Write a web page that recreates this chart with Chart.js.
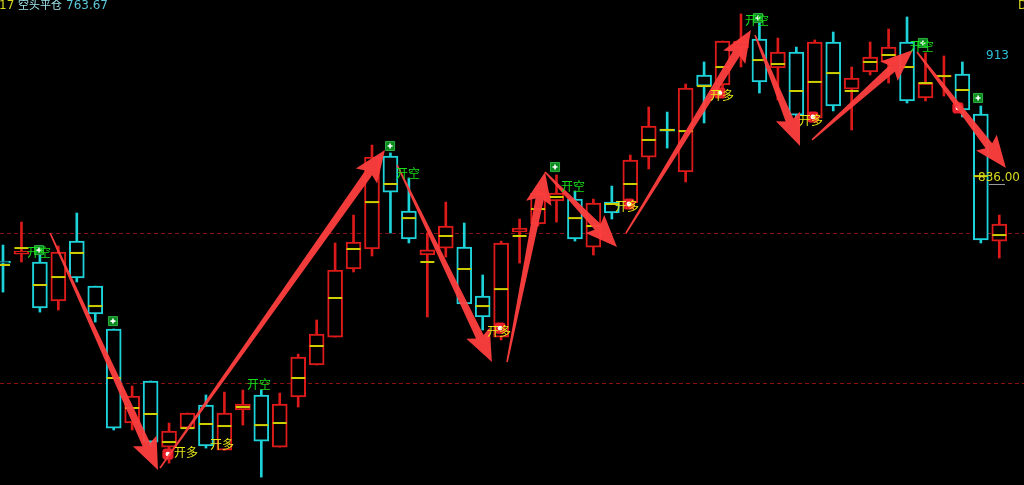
<!DOCTYPE html>
<html>
<head>
<meta charset="utf-8">
<script src="https://cdn.jsdelivr.net/npm/chart.js@4.4.0/dist/chart.umd.min.js"></script>
<style>
  html, body { margin: 0; padding: 0; background: #000; overflow: hidden; }
  canvas { display: block; }
</style>
</head>
<body>
<canvas id="kline" width="1024" height="485"></canvas>
<script>
// candle values (price units)
const opens = [783.3, 787.7, 782.7, 758.1, 795.9, 767.5, 740.4, 681.1, 707.6, 665.9,
  677.9, 692.4, 664.0, 689.3, 698.8, 665.9, 697.5, 717.7, 735.3, 778.3,
  790.9, 849.6, 814.9, 787.1, 791.5, 792.1, 761.2, 735.3, 801.6, 806.7,
  821.2, 822.4, 792.1, 820.5, 819.9, 848.9, 866.6, 839.5, 900.7, 894.4,
  917.7, 923.4, 905.1, 915.2, 873.5, 921.5, 891.8, 902.6, 908.9, 921.5,
  886.2, 899.4, 901.3, 876.1, 795.9];
const closes = [782.0, 789.6, 753.7, 789.0, 772.6, 749.9, 677.9, 698.1, 669.1, 676.0,
  687.4, 666.6, 687.4, 693.1, 669.7, 693.1, 722.7, 737.2, 777.6, 795.3,
  848.9, 826.8, 797.2, 790.3, 805.4, 756.2, 748.0, 794.7, 804.1, 826.2,
  826.2, 797.2, 819.9, 813.6, 847.0, 868.5, 865.3, 892.5, 893.7, 922.1,
  922.1, 896.3, 915.2, 875.4, 921.5, 881.1, 898.8, 912.0, 918.3, 884.3,
  895.6, 900.7, 878.6, 796.6, 806.7];
const highs = [793.4, 807.9, 789.0, 792.8, 813.6, 767.5, 740.4, 704.4, 707.6, 681.1,
  687.4, 698.8, 700.6, 701.9, 701.9, 700.0, 724.6, 746.1, 794.7, 812.3,
  856.5, 851.5, 835.7, 801.0, 820.5, 807.3, 774.5, 795.9, 809.8, 828.1,
  837.6, 827.5, 822.4, 830.6, 850.2, 880.5, 877.3, 895.0, 908.9, 922.1,
  939.2, 934.1, 924.0, 918.3, 922.8, 927.8, 905.7, 921.5, 929.7, 937.3,
  914.6, 912.7, 908.9, 881.1, 812.3];
const lows = [763.7, 782.7, 751.1, 752.4, 770.1, 744.8, 676.7, 676.7, 666.6, 655.8,
  677.9, 665.3, 664.0, 679.8, 647.0, 665.9, 691.2, 717.7, 735.3, 776.4,
  786.5, 801.0, 794.7, 748.0, 785.8, 756.2, 739.8, 733.5, 782.0, 805.4,
  807.9, 795.9, 787.1, 809.8, 818.6, 841.4, 854.6, 833.2, 870.4, 892.5,
  905.7, 889.3, 884.9, 873.5, 872.3, 878.0, 866.0, 900.7, 895.6, 883.0,
  884.3, 887.4, 874.2, 794.7, 785.2];
const mids = [780.8, 791.5, 768.2, 773.2, 788.4, 754.9, 709.5, 690.6, 686.8, 669.1,
  677.9, 680.5, 679.2, 691.2, 679.8, 681.1, 709.5, 729.7, 760.0, 790.9,
  820.5, 831.9, 810.4, 782.7, 799.1, 778.3, 754.9, 765.6, 799.1, 816.1,
  823.7, 810.4, 805.4, 819.3, 831.9, 859.7, 866.0, 865.3, 893.7, 905.7,
  null, 910.1, 907.6, 890.6, 896.3, 901.9, 890.6, 908.9, 913.3, 905.7,
  895.6, 900.0, 891.2, 836.9, 799.7];

// dashed reference levels
const levels = [801.3, 706.1];

// signal markers (bar position, price)
const sellMarkX = [1.95, 5.96, 20.98, 29.92, 40.92, 49.86, 52.85];
const sellMarkY = [790.2, 745.4, 855.9, 842.6, 936.6, 920.9, 886.2];
const buyMarkX = [8.94, 26.94, 33.93, 38.86, 43.9, 51.76];
const buyMarkY = [661.5, 741.0, 819.3, 889.3, 874.2, 879.9];

// signal texts
const shortText = "开空";
const longText = "开多";
const shortLabelX = [1.95, 13.88, 21.95, 30.9, 40.87, 49.8];
const shortLabelY = [789.0, 705.7, 838.8, 830.6, 935.4, 919.0];
const longLabelX = [9.92, 11.87, 26.88, 33.82, 38.97, 43.8];
const longLabelY = [662.8, 667.8, 739.1, 818.0, 888.1, 872.3];

// trend arrows: [fromX, fromY, toX, toY]
const arrows = [
  [2.55, 801.0, 8.40, 651.4],
  [8.51, 652.7, 20.70, 853.4],
  [21.36, 843.9, 26.50, 719.6],
  [27.32, 719.6, 29.38, 839.5],
  [29.38, 839.5, 33.28, 792.1],
  [33.77, 801.0, 40.54, 929.1],
  [40.76, 925.9, 43.20, 855.9],
  [43.85, 859.7, 49.32, 916.5],
  [49.54, 915.2, 54.36, 842.0]
];

const headerNum = "17";
const headerName = "空头平仓";
const headerValue = "763.67";
const topMark = 913;
const lastMark = "836.00";

const RED = "#dd1a1a";
const CYAN = "#1ed2da";
const candleColor = opens.map((o, i) => closes[i] >= o ? RED : CYAN);

function drawArrow(ctx, x1, y1, x2, y2) {
  const dx = x2 - x1, dy = y2 - y1;
  const len = Math.hypot(dx, dy);
  const ux = dx / len, uy = dy / len;
  const nx = -uy, ny = ux;
  const headLen = 32, headW = 13, neck = 28;
  const w0 = 0.8, w1 = 4.2;
  const bx = x2 - ux * neck, by = y2 - uy * neck;
  const hx = x2 - ux * headLen, hy = y2 - uy * headLen;
  ctx.beginPath();
  ctx.moveTo(x1 + nx * w0, y1 + ny * w0);
  ctx.lineTo(bx + nx * w1, by + ny * w1);
  ctx.lineTo(hx + nx * headW, hy + ny * headW);
  ctx.lineTo(x2, y2);
  ctx.lineTo(hx - nx * headW, hy - ny * headW);
  ctx.lineTo(bx - nx * w1, by - ny * w1);
  ctx.lineTo(x1 - nx * w0, y1 - ny * w0);
  ctx.closePath();
  ctx.fill();
}

const overlay = {
  id: "overlay",
  beforeDatasetsDraw(chart) {
    const { ctx, scales: { x, y } } = chart;
    ctx.save();
    ctx.strokeStyle = "#8a1010";
    ctx.lineWidth = 1;
    ctx.setLineDash([4, 3]);
    levels.forEach(v => {
      const py = Math.round(y.getPixelForValue(v)) + 0.5;
      ctx.beginPath();
      ctx.moveTo(0, py);
      ctx.lineTo(chart.width, py);
      ctx.stroke();
    });
    ctx.restore();
  },
  afterDatasetsDraw(chart) {
    const { ctx, scales: { x, y } } = chart;
    ctx.save();
    ctx.fillStyle = "rgba(255, 62, 62, 0.95)";
    arrows.forEach(a => {
      drawArrow(ctx, x.getPixelForValue(a[0]), y.getPixelForValue(a[1]),
        x.getPixelForValue(a[2]), y.getPixelForValue(a[3]));
    });

    ctx.font = '12px "Noto Sans CJK SC"';
    ctx.textAlign = "center";
    ctx.textBaseline = "middle";
    ctx.fillStyle = "#18e018";
    shortLabelX.forEach((v, i) => {
      ctx.fillText(shortText, x.getPixelForValue(v), y.getPixelForValue(shortLabelY[i]));
    });
    ctx.fillStyle = "#e6e619";
    longLabelX.forEach((v, i) => {
      ctx.fillText(longText, x.getPixelForValue(v), y.getPixelForValue(longLabelY[i]));
    });

    // right side values
    ctx.font = '12px "DejaVu Sans"';
    ctx.textAlign = "left";
    ctx.fillStyle = "#2bbfd6";
    ctx.fillText(String(topMark), 986, y.getPixelForValue(topMark));
    ctx.fillStyle = "#d8d820";
    ctx.fillText(lastMark, 978, y.getPixelForValue(836));
    ctx.fillStyle = "#9a9a9a";
    ctx.fillRect(989, Math.round(y.getPixelForValue(836)) + 6, 16, 1);

    // header
    ctx.textBaseline = "alphabetic";
    ctx.font = '12px "DejaVu Sans"';
    ctx.fillStyle = "#d8d820";
    ctx.fillText(headerNum, -1, 9);
    ctx.fillText("D", 1018, 9);
    ctx.font = '11px "Noto Sans CJK SC"';
    ctx.fillStyle = "#a0e6ec";
    ctx.fillText(headerName, 18, 9);
    ctx.font = '12px "DejaVu Sans"';
    ctx.fillStyle = "#5cc8d8";
    ctx.fillText(headerValue, 66, 9);
    ctx.restore();
  }
};

new Chart(document.getElementById("kline"), {
  type: "bar",
  data: {
    datasets: [
      {
        label: "wick",
        order: 6,
        grouped: false,
        barThickness: 2,
        data: lows.map((l, i) => ({ x: i, y: [l, highs[i]] })),
        backgroundColor: candleColor,
        borderWidth: 0
      },
      {
        label: "body",
        order: 5,
        grouped: false,
        barThickness: 15,
        data: opens.map((o, i) => ({ x: i, y: [o, closes[i]] })),
        backgroundColor: "#000",
        borderColor: candleColor,
        borderWidth: 2,
        borderSkipped: false
      },
      {
        type: "scatter",
        label: "mid",
        order: 4,
        data: mids.map((m, i) => ({ x: i, y: m })),
        pointStyle: "line",
        pointRadius: 7,
        borderColor: "#cfcf00",
        borderWidth: 2
      },
      {
        type: "scatter",
        label: "sell",
        order: 3,
        data: sellMarkX.map((v, i) => ({ x: v, y: sellMarkY[i] })),
        pointStyle: "rect",
        pointRadius: 6.4,
        backgroundColor: "#0b8a22",
        borderColor: "#2fb040",
        borderWidth: 1
      },
      {
        type: "scatter",
        label: "sellCross",
        order: 2,
        data: sellMarkX.map((v, i) => ({ x: v, y: sellMarkY[i] })),
        pointStyle: "cross",
        pointRadius: 2.5,
        borderColor: "#ffffff",
        borderWidth: 1.6
      },
      {
        type: "scatter",
        label: "buy",
        order: 3,
        data: buyMarkX.map((v, i) => ({ x: v, y: buyMarkY[i] })),
        pointStyle: "rectRounded",
        pointRadius: 6.5,
        backgroundColor: "#e81e28",
        borderWidth: 0
      },
      {
        type: "scatter",
        label: "buyDot",
        order: 2,
        data: buyMarkX.map((v, i) => ({ x: v, y: buyMarkY[i] })),
        pointStyle: "circle",
        pointRadius: 2.4,
        backgroundColor: "#ffffff",
        borderWidth: 0
      }
    ]
  },
  options: {
    responsive: false,
    animation: false,
    devicePixelRatio: 1,
    events: [],
    layout: { padding: 0, autoPadding: false },
    plugins: { legend: { display: false }, tooltip: { enabled: false } },
    scales: {
      x: { type: "linear", min: -0.163, max: 55.34, offset: false, display: false },
      y: { type: "linear", min: 642, max: 948, display: false }
    }
  },
  plugins: [overlay]
});
</script>
</body>
</html>
